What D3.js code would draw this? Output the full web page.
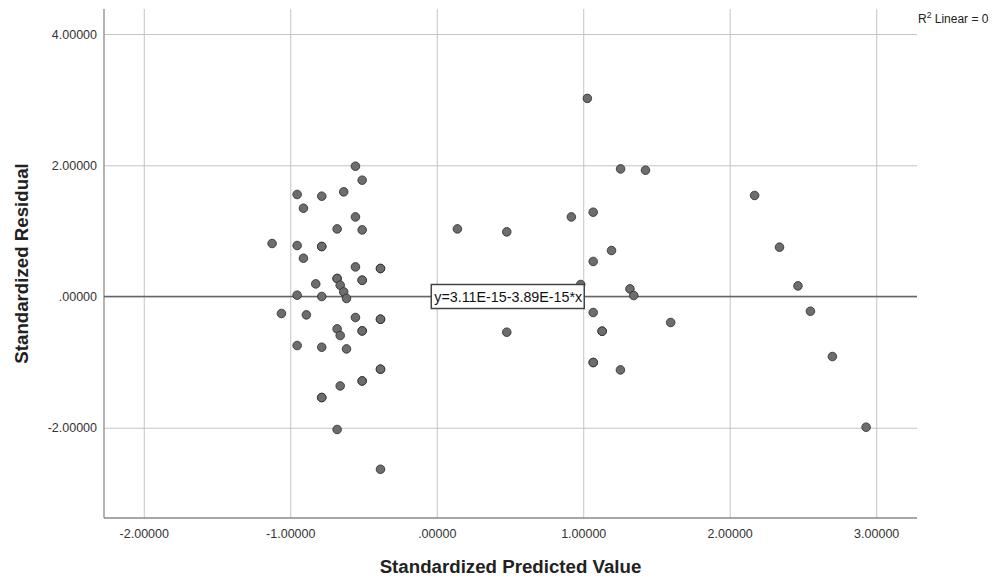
<!DOCTYPE html>
<html><head><meta charset="utf-8">
<script src="https://cdn.jsdelivr.net/npm/d3@7"></script>
<style>
body{margin:0;background:#fff;}
text{font-family:Arial,"Liberation Sans",sans-serif;}
</style></head>
<body><svg id="c" width="995" height="577"></svg>
<script>
const predicted = [
 -1.124,-1.060,-0.953,-0.953,-0.953,-0.953,-0.910,-0.910,-0.890,-0.826,
 -0.785,-0.785,-0.785,-0.785,-0.785,-0.785,-0.785,
 -0.680,-0.680,-0.680,-0.680,-0.680,
 -0.659,-0.659,-0.659,-0.635,-0.635,-0.616,-0.616,
 -0.555,-0.555,-0.555,-0.555,
 -0.509,-0.509,-0.509,-0.509,-0.509,-0.509,-0.509,-0.509,
 -0.384,-0.384,-0.384,-0.384,-0.384,-0.384,-0.384,
 0.141,0.478,0.919,1.068,1.193,1.068,0.983,1.319,1.345,1.068,0.478,
 1.129,1.129,1.597,1.068,1.068,1.254,1.028,1.255,1.425,
 2.170,2.340,2.466,2.551,2.701,2.931
];
const residual = [
 0.808,-0.259,1.555,0.777,0.020,-0.747,1.346,0.584,-0.280,0.192,
 1.529,0.762,0.762,0.000,-0.773,-1.540,-1.540,
 1.030,0.274,0.274,-0.494,-2.027,
 0.172,-0.595,-1.363,1.595,0.070,-0.030,-0.799,
 1.986,1.213,0.451,-0.320,
 1.773,1.015,0.248,0.248,-0.524,-0.524,-1.287,-1.287,
 0.427,0.427,-0.346,-0.346,-1.108,-1.108,-2.633,
 1.030,0.985,1.213,1.285,0.701,0.534,0.183,0.116,0.015,-0.244,-0.544,
 -0.529,-0.529,-0.396,-1.006,-1.006,-1.119,3.020,1.945,1.925,
 1.540,0.752,0.162,-0.224,-0.915,-1.992
];
const xTicks = [-2,-1,0,1,2,3];
const yTicks = [-2,0,2,4];
const fitCoef = [3.11e-15, -3.89e-15];
const fitLabel = "y=3.11E-15-3.89E-15*x";
const legendLabel = "Linear = 0";

const svg = d3.select("#c");
const L=104, R=917, T=9, B=518;
const x = d3.scaleLinear().domain([-2.2715,3.2785]).range([L,R]);
const y = d3.scaleLinear().domain([-3.376,4.382]).range([B,T]);
const fmt = v => { if (v===0) return ".00000"; return v.toFixed(5); };
const FF = "Arial,'Liberation Sans',sans-serif";

// gridlines
svg.append("g").attr("transform",`translate(0,${B})`)
  .call(d3.axisBottom(x).tickValues(xTicks).tickSize(-(B-T)).tickFormat(""))
  .call(g=>{g.select(".domain").remove();g.selectAll("line").attr("stroke","#c4c4c4");});
svg.append("g").attr("transform",`translate(${L},0)`)
  .call(d3.axisLeft(y).tickValues(yTicks).tickSize(-(R-L)).tickFormat(""))
  .call(g=>{g.select(".domain").remove();g.selectAll("line").attr("stroke","#c4c4c4");});

// tick labels
svg.append("g").attr("transform",`translate(0,${B})`)
  .call(d3.axisBottom(x).tickValues(xTicks).tickSize(0).tickPadding(11).tickFormat(fmt))
  .call(g=>{g.select(".domain").remove();g.selectAll("text").attr("font-size",12.5).attr("fill","#333").attr("font-family",FF);});
svg.append("g").attr("transform",`translate(${L},0)`)
  .call(d3.axisLeft(y).tickValues(yTicks).tickSize(0).tickPadding(7).tickFormat(fmt))
  .call(g=>{g.select(".domain").remove();g.selectAll("text").attr("font-size",12.5).attr("fill","#333").attr("font-family",FF);});

// axes lines
svg.append("line").attr("x1",L).attr("x2",L).attr("y1",T).attr("y2",B).attr("stroke","#8a8a8a").attr("stroke-width",1.3);
svg.append("line").attr("x1",L).attr("x2",R).attr("y1",B).attr("y2",B).attr("stroke","#8a8a8a").attr("stroke-width",1.3);

// fit line
const xd = x.domain();
svg.append("line")
  .attr("x1",x(xd[0])).attr("x2",x(xd[1]))
  .attr("y1",y(fitCoef[0]+fitCoef[1]*xd[0])).attr("y2",y(fitCoef[0]+fitCoef[1]*xd[1]))
  .attr("stroke","#666").attr("stroke-width",1.6);

// points
svg.append("g").selectAll("circle").data(predicted.map((p,i)=>[p,residual[i]]))
  .join("circle").attr("cx",d=>x(d[0])).attr("cy",d=>y(d[1])).attr("r",4.3)
  .attr("fill","#6d6d6d").attr("stroke","#2b2b2b").attr("stroke-width",1).attr("stroke-opacity",0.8);

// fit label box
const bx = x(-0.0305), by = y(fitCoef[0]);
const lbl = svg.append("g");
const t = lbl.append("text").attr("x",bx+2).attr("y",by+5).attr("font-size",14.3).attr("fill","#111").text(fitLabel);
const bb = t.node().getBBox();
lbl.insert("rect","text").attr("x",bx-1).attr("y",by-12).attr("width",bb.width+5).attr("height",24)
  .attr("fill","#fff").attr("stroke","#444").attr("stroke-width",1.5);

// legend R2
const lg = svg.append("text").attr("x",918).attr("y",23).attr("font-size",12).attr("fill","#222");
lg.append("tspan").text("R");
lg.append("tspan").attr("dy",-5).attr("font-size",8.5).text("2");
lg.append("tspan").attr("dy",5).text(" "+legendLabel);

// axis titles
svg.append("text").attr("x",(L+R)/2).attr("y",573).attr("text-anchor","middle")
  .attr("font-size",18.7).attr("font-weight","bold").attr("fill","#222").text("Standardized Predicted Value");
svg.append("text").attr("transform",`translate(28,${(T+B)/2}) rotate(-90)`).attr("text-anchor","middle")
  .attr("font-size",18.7).attr("font-weight","bold").attr("fill","#222").text("Standardized Residual");
</script></body></html>
